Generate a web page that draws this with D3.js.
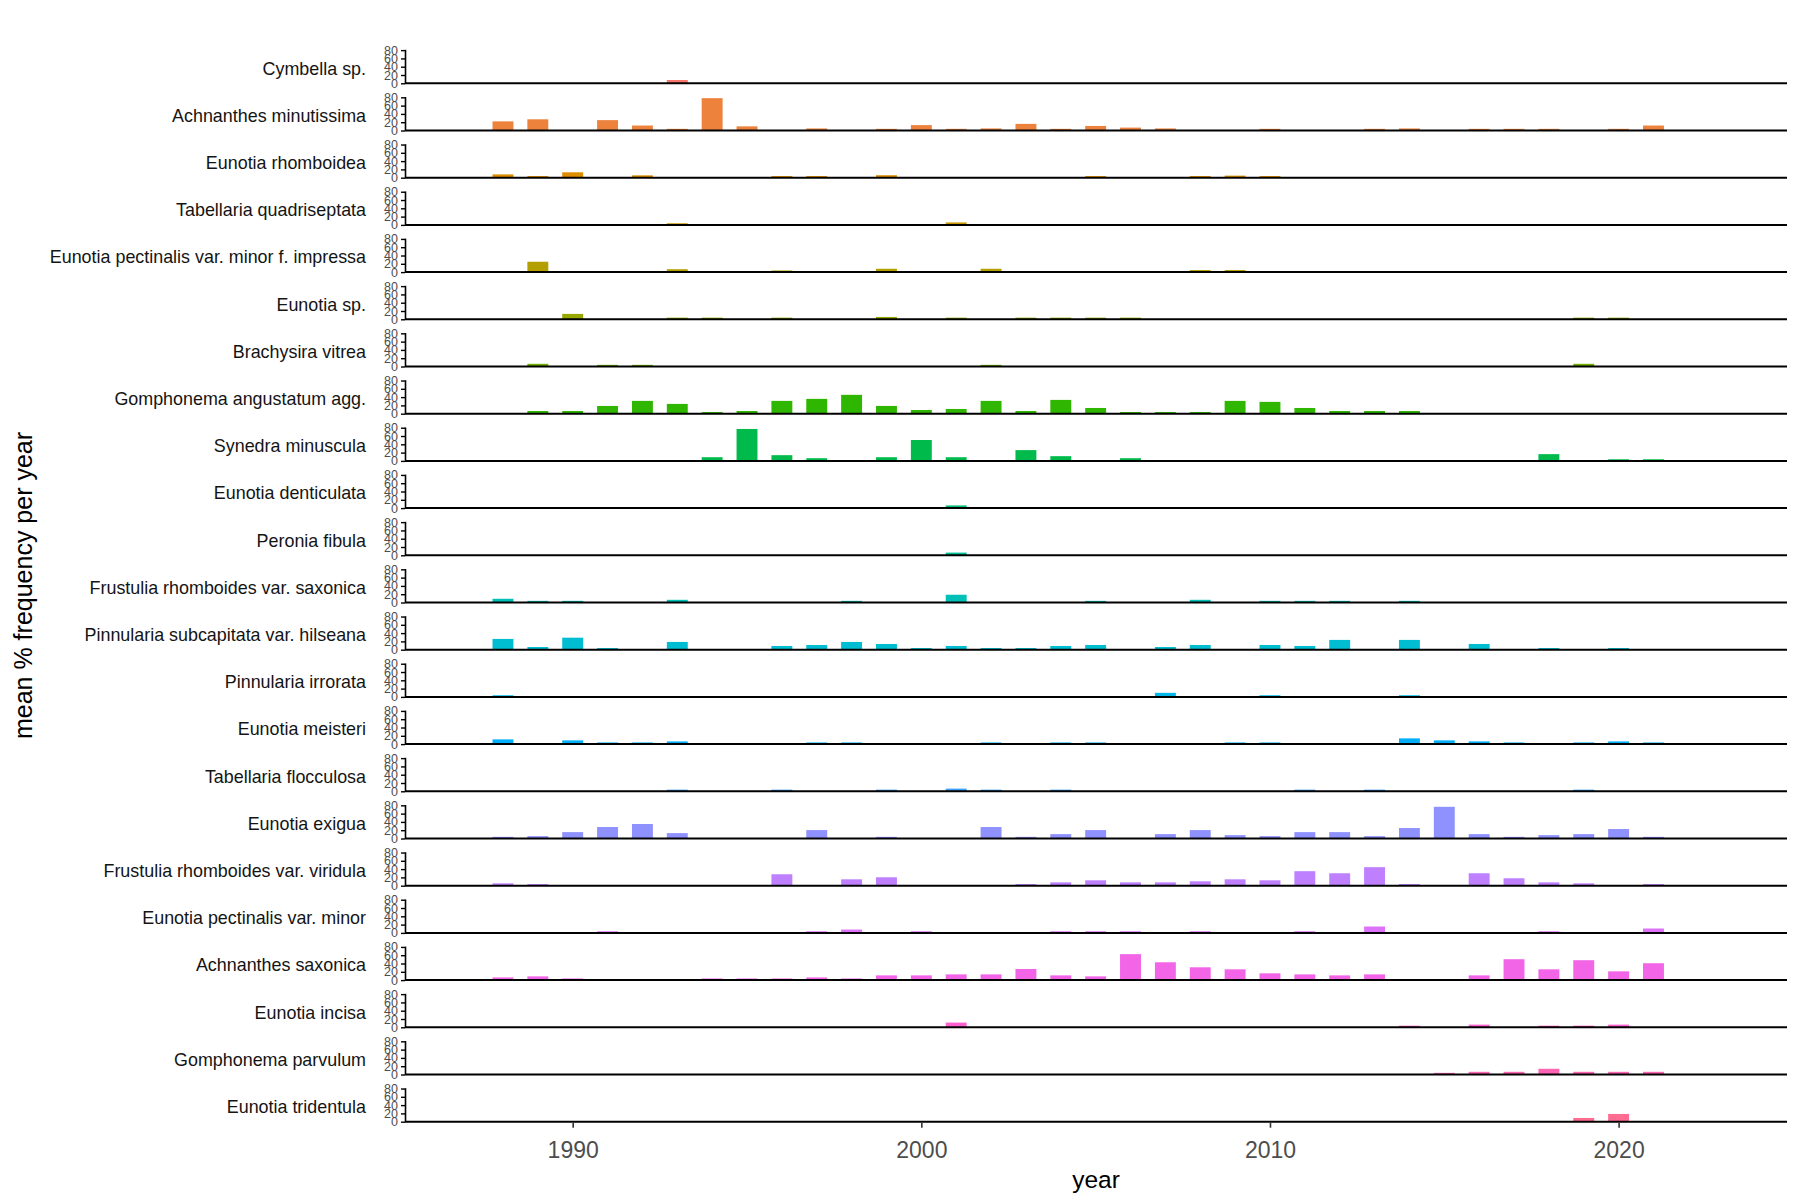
<!DOCTYPE html>
<html>
<head>
<meta charset="utf-8">
<script src="https://cdn.jsdelivr.net/npm/d3@7"></script>
<style>
  body { margin: 0; background: #ffffff; }
  text { font-family: "Liberation Sans", Arial, Helvetica, sans-serif; }
</style>
</head>
<body>
<svg id="chart" width="1800" height="1200"></svg>
<script>
// ---------------- data ----------------
const species = [
  "Cymbella sp.",
  "Achnanthes minutissima",
  "Eunotia rhomboidea",
  "Tabellaria quadriseptata",
  "Eunotia pectinalis var. minor f. impressa",
  "Eunotia sp.",
  "Brachysira vitrea",
  "Gomphonema angustatum agg.",
  "Synedra minuscula",
  "Eunotia denticulata",
  "Peronia fibula",
  "Frustulia rhomboides var. saxonica",
  "Pinnularia subcapitata var. hilseana",
  "Pinnularia irrorata",
  "Eunotia meisteri",
  "Tabellaria flocculosa",
  "Eunotia exigua",
  "Frustulia rhomboides var. viridula",
  "Eunotia pectinalis var. minor",
  "Achnanthes saxonica",
  "Eunotia incisa",
  "Gomphonema parvulum",
  "Eunotia tridentula"
];

const xTickYears = [1990, 2000, 2010, 2020];
const yTickValues = [0, 20, 40, 60, 80];

// mean % frequency per year: [year, value] pairs, one list per species (same order as species)
const freq = [
  [[1993, 8]],
  [[1988, 22], [1989, 27], [1991, 25], [1992, 12], [1993, 4], [1994, 78], [1995, 10], [1997, 5],
   [1999, 4], [2000, 13], [2001, 4], [2002, 5], [2003, 16], [2004, 4], [2005, 11], [2006, 7],
   [2007, 5], [2010, 4], [2013, 4], [2014, 5], [2016, 4], [2017, 4], [2018, 4], [2020, 4], [2021, 12]],
  [[1988, 8], [1989, 4], [1990, 13], [1992, 5.7], [1996, 4], [1997, 4], [1999, 6], [2005, 4],
   [2008, 4], [2009, 5], [2010, 4]],
  [[1993, 4], [2001, 6]],
  [[1989, 25], [1993, 7], [1996, 4], [1999, 8], [2002, 8], [2008, 5], [2009, 5]],
  [[1990, 13], [1993, 4], [1994, 4], [1996, 4], [1999, 5.7], [2001, 4], [2003, 4], [2004, 4],
   [2005, 4], [2006, 4], [2019, 4], [2020, 4]],
  [[1989, 6.5], [1991, 4], [1992, 4], [2002, 4], [2019, 6.5]],
  [[1989, 6.5], [1990, 6.5], [1991, 18.7], [1992, 30.9], [1993, 23.6], [1994, 4], [1995, 6.5],
   [1996, 30.9], [1997, 35.8], [1998, 45.5], [1999, 18.7], [2000, 8.9], [2001, 11.4], [2002, 30.9],
   [2003, 6.5], [2004, 33.3], [2005, 13.8], [2006, 4], [2007, 4], [2008, 4], [2009, 30.9],
   [2010, 28.5], [2011, 13.8], [2012, 6.5], [2013, 6.5], [2014, 6.5]],
  [[1994, 8.9], [1995, 77], [1996, 13.8], [1997, 6.5], [1999, 8.9], [2000, 50.4], [2001, 8.9],
   [2003, 26], [2004, 11.4], [2006, 6.5], [2018, 16.3], [2020, 4], [2021, 4]],
  [[2001, 6.5]],
  [[2001, 6.5]],
  [[1988, 9], [1989, 4], [1990, 4], [1993, 6.5], [1998, 4], [2001, 18.7], [2005, 4], [2008, 6.5],
   [2010, 4], [2011, 4], [2012, 4], [2014, 4]],
  [[1988, 26], [1989, 6.5], [1990, 29], [1991, 4], [1993, 18.7], [1996, 9], [1997, 11.4],
   [1998, 18.7], [1999, 13.8], [2000, 4], [2001, 9], [2002, 4], [2003, 4], [2004, 9], [2005, 11.4],
   [2007, 6.5], [2008, 11.4], [2010, 11.4], [2011, 9], [2012, 23.6], [2014, 23.6], [2016, 13.8],
   [2018, 4], [2020, 4]],
  [[1988, 4], [2007, 9.8], [2010, 4], [2014, 4]],
  [[1988, 11.4], [1990, 9], [1991, 4], [1992, 4], [1993, 6.5], [1997, 4], [1998, 4], [2002, 4],
   [2004, 4], [2005, 4], [2009, 4], [2010, 4], [2014, 13.8], [2015, 9], [2016, 6.5], [2017, 4],
   [2019, 4], [2020, 6.5], [2021, 4]],
  [[1993, 4], [1996, 4], [1999, 4], [2001, 6.5], [2002, 4], [2004, 4], [2011, 4], [2013, 4], [2019, 4]],
  [[1988, 4], [1989, 5.7], [1990, 15.4], [1991, 27.6], [1992, 35], [1993, 13], [1997, 20.3],
   [1999, 4], [2002, 27.6], [2003, 4], [2004, 10.6], [2005, 20.3], [2007, 10.6], [2008, 20.3],
   [2009, 8.1], [2010, 5.7], [2011, 15.4], [2012, 15.4], [2013, 5.7], [2014, 25.2], [2015, 76.4],
   [2016, 10.6], [2017, 4], [2018, 8.1], [2019, 10.6], [2020, 22.8], [2021, 4]],
  [[1988, 5.7], [1989, 4], [1996, 27.6], [1998, 15.4], [1999, 20.3], [2003, 4], [2004, 8.1],
   [2005, 13], [2006, 8.1], [2007, 8.1], [2008, 10.6], [2009, 15.4], [2010, 13], [2011, 35],
   [2012, 30], [2013, 44.7], [2014, 4], [2016, 30], [2017, 17.9], [2018, 8.1], [2019, 5.7], [2021, 4]],
  [[1991, 4], [1997, 4], [1998, 8.1], [2000, 4], [2004, 4], [2005, 4], [2006, 4], [2008, 4],
   [2011, 4], [2013, 15.4], [2018, 4], [2021, 10.6]],
  [[1988, 6.5], [1989, 9], [1990, 4], [1994, 4], [1995, 4], [1996, 4], [1997, 6.5], [1998, 4],
   [1999, 11.4], [2000, 11.4], [2001, 13.8], [2002, 13.8], [2003, 26.8], [2004, 11.4], [2005, 9],
   [2006, 62.6], [2007, 43], [2008, 30.9], [2009, 26], [2010, 16.3], [2011, 13.8], [2012, 11.4],
   [2013, 13.8], [2016, 11.4], [2017, 50.4], [2018, 26], [2019, 48], [2020, 21.1], [2021, 40.7]],
  [[2001, 11.4], [2014, 4], [2016, 6.5], [2018, 4], [2019, 4], [2020, 6.5]],
  [[2015, 4], [2016, 6.5], [2017, 6.5], [2018, 13.8], [2019, 6.5], [2020, 6.5], [2021, 6.5]],
  [[2019, 9], [2020, 18.7]]
];

// ---------------- ggplot2 default hue palette (polar LUV -> sRGB) ----------------
function hclHex(h, c, l) {
  const WY = 100, Wu = 0.1978398, Wv = 0.4683363;
  const hr = h * Math.PI / 180;
  const U = c * Math.cos(hr), V = c * Math.sin(hr);
  const Y = WY * (l > 7.999592 ? Math.pow((l + 16) / 116, 3) : l / 903.3);
  const u = U / (13 * l) + Wu, v = V / (13 * l) + Wv;
  const X = 9 * Y * u / (4 * v);
  const Z = -X / 3 - 5 * Y + 3 * Y / v;
  const g = t => (t > 0.00304 ? 1.055 * Math.pow(t, 1 / 2.4) - 0.055 : 12.92 * t);
  const r = g((3.240479 * X - 1.537150 * Y - 0.498535 * Z) / WY);
  const gg = g((-0.969256 * X + 1.875992 * Y + 0.041556 * Z) / WY);
  const b = g((0.055648 * X - 0.204043 * Y + 1.057311 * Z) / WY);
  const cl = t => Math.max(0, Math.min(255, Math.round(t * 255)));
  return d3.rgb(cl(r), cl(gg), cl(b)).formatHex();
}
const n = species.length;
const palette = d3.range(n).map(i => hclHex(15 + 360 * i / n, 100, 65));

// ---------------- layout ----------------
const svg = d3.select("#chart");
const left = 405, right = 1787;
const firstBase = 83.3, step = 47.2, panelH = 34;

const x = d3.scaleLinear().domain([1985.19, 2024.83]).range([left, right]);
const y = d3.scaleLinear().domain([0, 82]).range([panelH, 0]);
const barW = x(1988.6) - x(1988);

svg.append("rect").attr("width", 1800).attr("height", 1200).attr("fill", "#ffffff");

species.forEach((name, i) => {
  const base = firstBase + step * i;
  const g = svg.append("g").attr("transform", `translate(0,${base - panelH})`);

  // bars
  g.selectAll("rect.bar")
    .data(freq[i])
    .join("rect")
    .attr("class", "bar")
    .attr("x", d => x(d[0]) - barW / 2)
    .attr("y", d => y(d[1]))
    .attr("width", barW)
    .attr("height", d => panelH - y(d[1]))
    .attr("fill", palette[i]);

  // y axis
  const ya = g.append("g")
    .attr("transform", `translate(${left},0)`)
    .call(d3.axisLeft(y).tickValues(yTickValues).tickSize(4).tickSizeOuter(0).tickPadding(3));
  ya.select(".domain").attr("stroke", "#000").attr("stroke-width", 1.6);
  ya.selectAll(".tick line").attr("stroke", "#000").attr("stroke-width", 1.4);
  ya.selectAll(".tick text").attr("fill", "#4d4d4d").attr("font-size", 12.5).attr("font-family", "Liberation Sans, Arial, sans-serif");

  // bottom axis line of the panel
  g.append("line")
    .attr("x1", left).attr("x2", right)
    .attr("y1", panelH).attr("y2", panelH)
    .attr("stroke", "#000").attr("stroke-width", 2);

  // species label (strip on the left)
  g.append("text")
    .attr("x", 366)
    .attr("y", panelH - 8.6)
    .attr("text-anchor", "end")
    .attr("font-size", 17.9)
    .attr("fill", "#141414")
    .text(name);
});

// x axis under the last panel
const lastBase = firstBase + step * (n - 1);
const xa = svg.append("g")
  .attr("transform", `translate(0,${lastBase + 1})`)
  .call(d3.axisBottom(x).tickValues(xTickYears).tickFormat(d3.format("d")).tickSize(5).tickSizeOuter(0).tickPadding(14));
xa.select(".domain").remove();
xa.selectAll(".tick line").attr("stroke", "#333").attr("stroke-width", 1.6);
xa.selectAll(".tick text").attr("fill", "#4d4d4d").attr("font-size", 23).attr("font-family", "Liberation Sans, Arial, sans-serif");

// axis titles
svg.append("text")
  .attr("x", (left + right) / 2)
  .attr("y", 1188)
  .attr("text-anchor", "middle")
  .attr("font-size", 24.5)
  .attr("fill", "#000")
  .text("year");

svg.append("text")
  .attr("transform", `translate(32,${(firstBase - panelH + lastBase) / 2}) rotate(-90)`)
  .attr("text-anchor", "middle")
  .attr("font-size", 25)
  .attr("fill", "#000")
  .text("mean % frequency per year");
</script>
</body>
</html>
